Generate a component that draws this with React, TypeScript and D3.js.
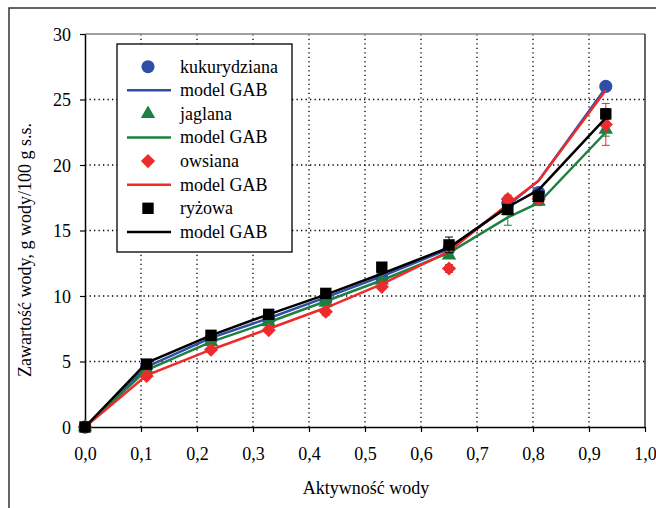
import React, { useEffect, useRef } from "react";
import * as d3 from "d3";

// aktywność wody (aw)
const aw = [0, 0.11, 0.225, 0.328, 0.43, 0.53, 0.65, 0.755, 0.81, 0.93];

const kukurydziana = [0, 4.6, 6.7, 8.2, 9.7, 11.4, 13.6, 17.1, 17.9, 26.0];
const kukurydzianaErr = [0, 0.1, 0.1, 0.1, 0.2, 0.2, 0.2, 0.3, 0.3, 0.3];
const kukurydzianaGAB = [0, 4.6, 6.8, 8.3, 9.9, 11.5, 13.6, 16.9, 18.8, 25.9];

const jaglana = [0, 4.4, 6.5, 8.0, 9.5, 11.2, 13.1, 16.5, 17.2, 22.7];
const jaglanaErr = [0, 0.1, 0.1, 0.1, 0.2, 0.2, 0.2, 1.1, 0.3, 0.5];
const jaglanaGAB = [0, 4.35, 6.5, 8.0, 9.6, 11.2, 13.3, 16.0, 17.1, 22.5];

const owsiana = [0, 3.9, 5.9, 7.4, 8.8, 10.7, 12.1, 17.4, 17.4, 23.1];
const owsianaErr = [0, 0.1, 0.1, 0.2, 0.3, 0.2, 0.3, 0.3, 0.3, 1.6];
const owsianaGAB = [0, 3.95, 5.9, 7.5, 9.1, 10.9, 13.4, 17.0, 18.8, 25.7];

const ryzowa = [0, 4.8, 7.0, 8.6, 10.2, 12.2, 13.9, 16.6, 17.6, 23.9];
const ryzowaErr = [0, 0.1, 0.1, 0.2, 0.2, 0.2, 0.6, 0.2, 0.3, 0.4];
const ryzowaGAB = [0, 4.9, 7.0, 8.6, 10.1, 11.7, 13.7, 16.8, 18.1, 23.6];

const xTicks = [0, 0.1, 0.2, 0.3, 0.4, 0.5, 0.6, 0.7, 0.8, 0.9, 1.0];
const yTicks = [0, 5, 10, 15, 20, 25, 30];

// diamond = square turned by 45 degrees
const series = [
  { name: "kukurydziana", values: kukurydziana, err: kukurydzianaErr, model: kukurydzianaGAB, color: "#2f4fa6", symbol: d3.symbolCircle, size: 135, rot: 0 },
  { name: "jaglana", values: jaglana, err: jaglanaErr, model: jaglanaGAB, color: "#1e8040", symbol: d3.symbolTriangle, size: 90, rot: 0 },
  { name: "owsiana", values: owsiana, err: owsianaErr, model: owsianaGAB, color: "#ee2a2a", symbol: d3.symbolSquare, size: 100, rot: 45 },
  { name: "ryżowa", values: ryzowa, err: ryzowaErr, model: ryzowaGAB, color: "#000000", symbol: d3.symbolSquare, size: 130, rot: 0 },
];

const W = 656;
const H = 508;
const FONT = "'Liberation Serif', 'Times New Roman', serif";

const App = () => {
  const svgRef = useRef(null);

  useEffect(() => {
    const svg = d3.select(svgRef.current);
    svg.selectAll("*").remove();

    const x = d3.scaleLinear().domain([0, 1]).range([85, 645]);
    const y = d3.scaleLinear().domain([0, 30]).range([427, 34]);

    // outer frame
    svg.append("rect")
      .attr("x", 9).attr("y", 8).attr("width", 700).attr("height", 560)
      .attr("fill", "none").attr("stroke", "#333").attr("stroke-width", 1.5);

    // grid
    const grid = svg.append("g").attr("stroke", "#000").attr("stroke-width", 1.3).attr("stroke-dasharray", "1.3 3.2");
    grid.selectAll("line.gx").data(xTicks.slice(1, -1)).join("line")
      .attr("x1", (d) => x(d)).attr("x2", (d) => x(d))
      .attr("y1", y(0)).attr("y2", y(30));
    grid.selectAll("line.gy").data(yTicks.slice(1, -1)).join("line")
      .attr("class", "gy")
      .attr("x1", x(0)).attr("x2", x(1))
      .attr("y1", (d) => y(d)).attr("y2", (d) => y(d));

    // plot border (top grey, right black)
    svg.append("line").attr("x1", x(0)).attr("x2", x(1)).attr("y1", y(30)).attr("y2", y(30))
      .attr("stroke", "#808080").attr("stroke-width", 1.5);
    svg.append("line").attr("x1", x(1)).attr("x2", x(1)).attr("y1", y(30)).attr("y2", y(0))
      .attr("stroke", "#000").attr("stroke-width", 1.2);

    // axes
    const xAxis = d3.axisBottom(x).tickValues(xTicks).tickSize(5).tickSizeOuter(0)
      .tickFormat((d) => d3.format(".1f")(d).replace(".", ","));
    const gx = svg.append("g").attr("transform", `translate(0,${y(0)})`).call(xAxis);
    const yAxis = d3.axisLeft(y).tickValues(yTicks).tickSize(5).tickSizeOuter(0);
    const gy = svg.append("g").attr("transform", `translate(${x(0)},0)`).call(yAxis);
    [gx, gy].forEach((g) => {
      g.attr("font-family", FONT);
      g.select(".domain").attr("stroke", "#000").attr("stroke-width", 1.5);
      g.selectAll(".tick line").attr("stroke", "#000").attr("stroke-width", 1.2);
      g.selectAll(".tick text").attr("font-family", FONT).attr("font-size", 18).attr("fill", "#000");
    });
    gx.selectAll(".tick text").attr("dy", "1.05em").attr("y", 14);
    gy.selectAll(".tick text").attr("x", -14).attr("dy", "0.34em");

    // axis titles
    svg.append("text").attr("x", 366).attr("y", 494).attr("text-anchor", "middle")
      .attr("font-family", FONT).attr("font-size", 18).text("Aktywność wody");
    svg.append("text").attr("transform", "translate(31,250) rotate(-90)").attr("text-anchor", "middle")
      .attr("font-family", FONT).attr("font-size", 18).text("Zawartość wody, g wody/100 g s.s.");

    // legend
    const lg = svg.append("g");
    lg.append("rect").attr("x", 117).attr("y", 44).attr("width", 175).attr("height", 208)
      .attr("fill", "#fff").attr("stroke", "#000").attr("stroke-width", 1.3);
    series.forEach((s, i) => {
      const y1 = 66.7 + i * 2 * 23.6;
      const y2 = y1 + 23.6;
      lg.append("path").attr("d", d3.symbol(s.symbol, s.size)())
        .attr("transform", `translate(148,${y1}) rotate(${s.rot})`).attr("fill", s.color);
      lg.append("text").attr("x", 180).attr("y", y1).attr("dy", "0.33em")
        .attr("font-family", FONT).attr("font-size", 18).text(s.name);
      lg.append("line").attr("x1", 127).attr("x2", 171).attr("y1", y2).attr("y2", y2)
        .attr("stroke", s.color).attr("stroke-width", 2.5);
      lg.append("text").attr("x", 180).attr("y", y2).attr("dy", "0.33em")
        .attr("font-family", FONT).attr("font-size", 18).text("model GAB");
    });

    // data
    const line = d3.line().x((d) => x(d[0])).y((d) => y(d[1]));
    series.forEach((s) => {
      const g = svg.append("g");
      const pts = aw.map((a, i) => ({ a, v: s.values[i], e: s.err[i] }));
      const eb = g.append("g").attr("stroke", s.color).attr("stroke-width", 1);
      pts.filter((p) => p.e > 0).forEach((p) => {
        eb.append("line").attr("x1", x(p.a)).attr("x2", x(p.a)).attr("y1", y(p.v - p.e)).attr("y2", y(p.v + p.e));
        eb.append("line").attr("x1", x(p.a) - 4).attr("x2", x(p.a) + 4).attr("y1", y(p.v - p.e)).attr("y2", y(p.v - p.e));
        eb.append("line").attr("x1", x(p.a) - 4).attr("x2", x(p.a) + 4).attr("y1", y(p.v + p.e)).attr("y2", y(p.v + p.e));
      });
      g.append("path").attr("d", line(aw.map((a, i) => [a, s.model[i]])))
        .attr("fill", "none").attr("stroke", s.color).attr("stroke-width", 2.5);
      g.selectAll("path.m").data(pts).join("path")
        .attr("class", "m")
        .attr("d", d3.symbol(s.symbol, s.size)())
        .attr("transform", (p) => `translate(${x(p.a)},${y(p.v)}) rotate(${s.rot})`)
        .attr("fill", s.color);
    });
  }, []);

  return (
    <svg ref={svgRef} width={W} height={H} style={{ position: "absolute", left: 0, top: 0, background: "#fff" }} />
  );
};

export default App;
